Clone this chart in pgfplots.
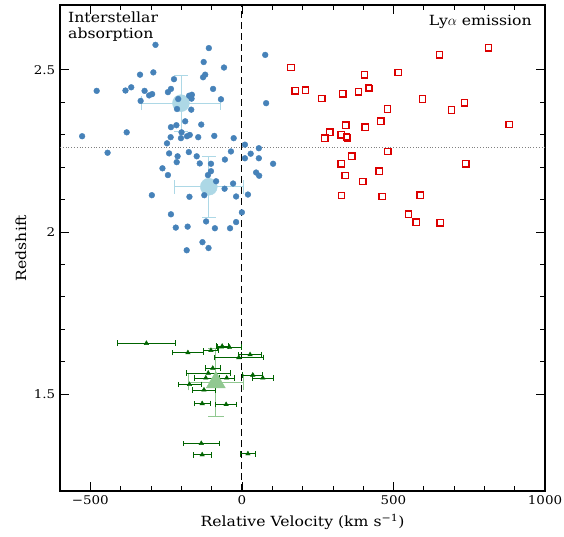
\documentclass[border=0pt]{standalone}
\usepackage{fontspec}
\setmainfont{DejaVu Serif}[FakeStretch=1.12]
\usepackage{pgfplots}
\pgfplotsset{compat=1.18}
\definecolor{ptblue}{RGB}{70,130,185}
\definecolor{ltblue}{RGB}{173,216,230}
\definecolor{ptred}{RGB}{220,0,0}
\definecolor{dkgreen}{RGB}{0,100,0}
\definecolor{ltgreen}{RGB}{145,200,145}
\begin{document}
\fontsize{14}{17}\selectfont
\begin{tikzpicture}
\useasboundingbox (-60pt,-45pt) rectangle (504pt,491pt);
\begin{axis}[
 at={(0,0)}, anchor=south west,
 scale only axis, width=485pt, height=486pt,
 xmin=-600, xmax=1000, ymin=1.2, ymax=2.7,
 xtick={-500,0,500,1000}, xticklabels={−500,0,500,1000},
 ytick={1.5,2,2.5}, yticklabels={1.5,2,2.5},
 minor x tick num=4, minor y tick num=4,
 tick align=inside, major tick length=9pt, minor tick length=5pt,
 tick style={black, line width=0.6pt},
 axis line style={line width=1.2pt},
 xlabel={Relative Velocity (km s\textsuperscript{−1})},
 ylabel={Redshift},
 ticklabel style={font=\fontsize{12}{14}\selectfont},
 label style={font=\fontsize{14}{17}\selectfont},
 xlabel style={yshift=0pt},
 ylabel style={yshift=-2pt},
]
% reference lines
\addplot[gray, dotted, line width=0.8pt, forget plot] coordinates {(-600,2.26) (1000,2.26)};
\addplot[black, line width=0.8pt, dash pattern=on 7pt off 4pt, forget plot] coordinates {(0,1.2) (0,2.7)};
% big light-blue averages
\addplot[only marks, mark=*, mark size=8.5pt, color=ltblue, mark options={fill=ltblue, draw=ltblue},
  error bars/.cd, x dir=both, x explicit, y dir=both, y explicit,
  error bar style={ltblue, line width=0.8pt}, error mark options={rotate=90, ltblue, mark size=7pt, line width=0.8pt}]
  coordinates {(-201,2.397) +- (129,0.086) (-109,2.139) +- (115,0.094)};
% blue absorption points
\addplot[only marks, mark=*, mark size=2.9pt, color=ptblue, mark options={fill=ptblue, draw=ptblue}] coordinates {
(-285,2.577)(-109,2.567)(77,2.546)(-126,2.524)(-59,2.507)(-336,2.485)(-292,2.492)(-224,2.471)(-121,2.485)(-128,2.477)
(-479,2.435)(-384,2.436)(-365,2.446)(-321,2.435)(-306,2.421)(-296,2.425)(-244,2.431)(-234,2.441)(-95,2.441)(-334,2.404)
(-210,2.410)(-174,2.420)(-165,2.423)(-166,2.411)(-69,2.409)(80,2.397)(-214,2.379)(-167,2.377)(-187,2.341)(-134,2.331)
(-234,2.323)(-216,2.329)(-380,2.307)(-527,2.295)(-199,2.307)(-235,2.292)(-201,2.289)(-181,2.295)(-172,2.299)(-144,2.292)
(-91,2.296)(-27,2.289)(-247,2.273)(10,2.269)(56,2.258)(-443,2.244)(-240,2.242)(-175,2.246)(-36,2.248)(29,2.241)
(-212,2.233)(-149,2.233)(10,2.227)(56,2.227)(-215,2.215)(-139,2.211)(-102,2.210)(-56,2.223)(103,2.210)(-262,2.196)
(-102,2.187)(47,2.183)(57,2.173)(-244,2.175)(-112,2.175)(-85,2.156)(-29,2.149)(-57,2.133)(-297,2.113)(-173,2.108)
(-124,2.113)(-19,2.109)(20,2.115)(0,2.060)(-234,2.054)(-118,2.032)(-19,2.030)(-218,2.013)(-179,2.016)(-89,2.011)
(-39,2.011)(-130,1.968)(-110,1.950)(-182,1.943)
};
% red Lya emission squares
\addplot[only marks, mark=square, mark size=3.2pt, color=ptred, mark options={line width=1.3pt, draw=ptred}] coordinates {
(162,2.507)(176,2.435)(210,2.437)(264,2.411)(333,2.426)(385,2.432)(405,2.485)(418,2.445)(420,2.442)(516,2.492)
(652,2.546)(814,2.568)(596,2.410)(480,2.379)(692,2.376)(734,2.398)(882,2.331)(343,2.329)(407,2.323)(458,2.341)
(290,2.307)(274,2.289)(328,2.299)(345,2.293)(348,2.290)(481,2.248)(363,2.233)(328,2.210)(739,2.210)(453,2.187)
(341,2.174)(399,2.155)(329,2.112)(463,2.109)(588,2.113)(550,2.054)(575,2.030)(654,2.028)
};
% big light-green average
\addplot[only marks, mark=triangle*, mark size=11pt, color=ltgreen, mark options={fill=ltgreen, draw=ltgreen},
  error bars/.cd, x dir=both, x explicit, y dir=both, y explicit,
  error bar style={ltgreen, line width=0.8pt}, error mark options={rotate=90, ltgreen, mark size=8pt, line width=0.8pt}]
  coordinates {(-86,1.535) +- (91,0.105)};
% green triangles with x errors
\addplot[only marks, mark=triangle*, mark size=2.6pt, color=dkgreen, mark options={fill=dkgreen, draw=dkgreen},
  error bars/.cd, x dir=both, x explicit,
  error bar style={dkgreen, line width=0.7pt}, error mark options={rotate=90, dkgreen, mark size=2.8pt, line width=0.7pt}]
  coordinates {
(-315,1.656) +- (97,0) (-178,1.627) +- (50,0) (-102,1.634) +- (25,0) (-65,1.647) +- (20,0) (-41,1.644) +- (40,0)
(-10,1.612) +- (82,0) (27,1.621) +- (38,0) (-96,1.579) +- (25,0) (-111,1.564) +- (72,0) (-119,1.549) +- (39,0)
(-50,1.549) +- (24,0) (36,1.558) +- (33,0) (69,1.549) +- (35,0) (-173,1.529) +- (38,0) (-125,1.512) +- (39,0)
(-131,1.470) +- (26,0) (-52,1.467) +- (35,0) (-134,1.347) +- (60,0) (-131,1.312) +- (30,0) (20,1.315) +- (24,0)
};
\node[anchor=north west, align=left, inner sep=0pt, font=\fontsize{14}{15.5}\selectfont] at (rel axis cs:0.0165,0.986) {Interstellar\\absorption};
\node[anchor=north east, inner sep=0pt, font=\fontsize{14}{15.5}\selectfont] at (rel axis cs:0.973,0.979) {Ly$\alpha$ emission};
\end{axis}
\end{tikzpicture}
\end{document}
